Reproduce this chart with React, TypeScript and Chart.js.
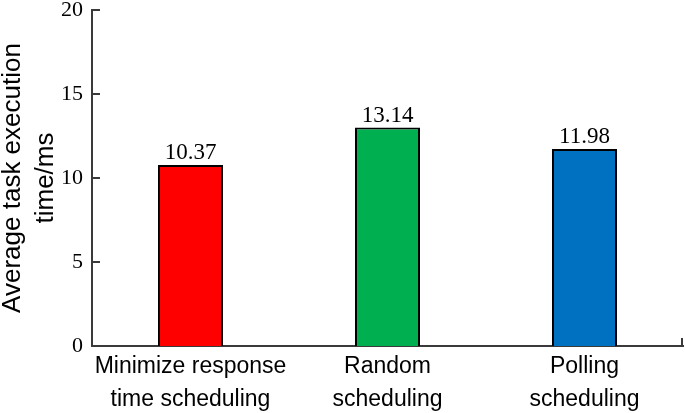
import React, { useEffect, useRef } from "react";
import { Chart, registerables } from "chart.js";

Chart.register(...registerables);

const categories: string[][] = [
  ["Minimize response", "time scheduling"],
  ["Random", "scheduling"],
  ["Polling", "scheduling"],
];
// bar heights as drawn in the picture
const barHeights: number[] = [10.77, 13.0, 11.73];
// value labels printed above the bars
const valueLabels: string[] = ["10.37", "13.14", "11.98"];
const barColors: string[] = ["#FF0000", "#00B050", "#0070C0"];
const yTitle: string[] = ["Average task execution", "time/ms"];
const yMin = 0;
const yMax = 20;
const yStep = 5;

const AXIS_COLOR = "#3a3a3a";
const SERIF = "'Liberation Serif', 'Times New Roman', serif";
const SANS = "'Liberation Sans', Arial, sans-serif";

const insideTicks = {
  id: "insideTicks",
  afterDraw(chart: any) {
    const ctx = chart.ctx;
    const y = chart.scales.y;
    const x = chart.scales.x;
    const area = chart.chartArea;
    ctx.save();
    ctx.strokeStyle = AXIS_COLOR;
    ctx.lineWidth = 2;
    ctx.beginPath();
    y.ticks.forEach((t: any) => {
      const py = Math.round(y.getPixelForValue(t.value));
      ctx.moveTo(area.left, py);
      ctx.lineTo(area.left + 8, py);
    });
    const rx = x.right - 1;
    ctx.moveTo(rx, area.bottom);
    ctx.lineTo(rx, area.bottom - 8);
    ctx.stroke();
    ctx.restore();
  },
};

const barValueLabels = {
  id: "barValueLabels",
  afterDatasetsDraw(chart: any) {
    const ctx = chart.ctx;
    const meta = chart.getDatasetMeta(0);
    ctx.save();
    ctx.fillStyle = "#000";
    ctx.font = "23px " + SERIF;
    ctx.textAlign = "center";
    ctx.textBaseline = "alphabetic";
    meta.data.forEach((bar: any, i: number) => {
      ctx.fillText(valueLabels[i], bar.x, bar.y - 6);
    });
    ctx.restore();
  },
};

export default function App() {
  const ref = useRef<HTMLCanvasElement>(null);
  useEffect(() => {
    if (!ref.current) return;
    const chart = new Chart(ref.current, {
      type: "bar",
      data: {
        labels: categories,
        datasets: [
          {
            data: barHeights,
            backgroundColor: barColors,
            borderColor: "#000",
            borderWidth: 2,
            barPercentage: 0.33,
            categoryPercentage: 1,
          },
        ],
      },
      options: {
        responsive: false,
        animation: false,
        devicePixelRatio: 1,
        layout: { padding: { top: 10, right: 2, left: 0, bottom: 0 } },
        plugins: {
          legend: { display: false },
          tooltip: { enabled: false },
        },
        scales: {
          x: {
            grid: { display: false, drawTicks: false },
            border: { display: true, color: AXIS_COLOR, width: 2 },
            ticks: {
              color: "#000",
              padding: 4,
              maxRotation: 0,
              autoSkip: false,
              font: { family: SANS, size: 23, lineHeight: 1.45 },
            },
            afterFit: (s: any) => {
              s.height = 67;
              s.paddingLeft = 0;
              s.paddingRight = 0;
            },
          },
          y: {
            min: yMin,
            max: yMax,
            grid: { display: false, drawTicks: false },
            border: { display: true, color: AXIS_COLOR, width: 2 },
            ticks: {
              stepSize: yStep,
              color: "#000",
              padding: 9,
              font: { family: SERIF, size: 22 },
            },
            title: {
              display: true,
              text: yTitle,
              color: "#000",
              padding: { top: -3, bottom: 0 },
              font: { family: SANS, size: 26, lineHeight: 1.25 },
            },
            afterFit: (s: any) => {
              s.width = 92;
              s.paddingTop = 0;
              s.paddingBottom = 0;
            },
          },
        },
      },
      plugins: [insideTicks, barValueLabels],
    });
    return () => chart.destroy();
  }, []);
  return (
    <div style={{ position: "absolute", left: 0, top: 0, width: 685, height: 413, background: "#fff" }}>
      <canvas ref={ref} width={685} height={413} />
    </div>
  );
}
